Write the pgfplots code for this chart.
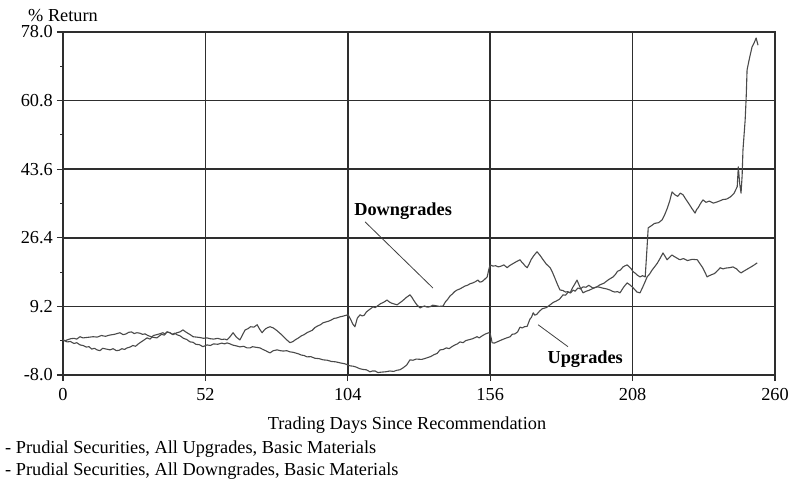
\documentclass[border=0pt]{standalone}
\usepackage{fontspec}
\setmainfont{Liberation Serif}
\usepackage{pgfplots}
\pgfplotsset{compat=1.18}
\definecolor{curve}{HTML}{4A4A4A}
\definecolor{gridc}{HTML}{2E2E2E}
\begin{document}
\fontsize{18.3bp}{22bp}\selectfont
\begin{tikzpicture}
\useasboundingbox (-63bp,-113bp) rectangle (728bp,375bp);
\begin{axis}[
  at={(0,0)}, anchor=south west,
  scale only axis, width=712bp, height=343bp,
  xmin=0, xmax=260, ymin=-8, ymax=78,
  xtick={0,52,104,156,208,260},
  ytick={-8,9.2,26.4,43.6,60.8,78},
  minor ytick={0.6,17.8,35,52.2,69.4},
  yticklabel style={/pgf/number format/fixed, /pgf/number format/fixed zerofill, /pgf/number format/precision=1},
  /pgf/number format/assume math mode=true,
  tick align=outside,
  major tick length=6bp, minor tick length=2.5bp,
  tick style={gridc, line width=1.2bp},
  xtick pos=bottom, ytick pos=left,
  grid=major,
  major grid style={gridc, line width=1.6bp},
  axis line style={gridc, line width=1.6bp},
  every tick label/.append style={font=\fontsize{18.3bp}{22bp}\selectfont},
  yticklabel style={inner sep=0pt, xshift=-4bp},
  xticklabel style={inner sep=0pt, yshift=-7bp},
  clip=false,
]
% Upgrades
\addplot[curve, line width=1.1bp, line join=round] coordinates {
(0,0.8) (0.8,0.5) (1.5,0.3) (2.7,0.4) (4,-0.1) (5,0.1) (6.2,-0.45) (7.3,-0.6) (8.5,-1.0) (9.5,-0.9) (10.5,-1.5) (11.5,-1.3) (12.4,-1.7) (13.5,-1.9) (14.5,-1.3) (15.8,-1.5) (17.2,-1.7) (18.3,-1.4) (19.5,-1.9) (20.5,-1.8) (21.5,-1.4) (22.5,-1.6) (23.4,-1.2) (24.5,-1.0) (25.5,-0.6) (26.5,-0.8) (27.5,-0.2) (29,0.5) (30.7,1.3) (31.8,1.0) (33,1.9) (34.7,2.2) (36.5,2.6) (37.2,2.3) (38,2.8) (39,2.6) (40,2.2) (40.8,2.5) (41.6,2.1) (42.8,1.8) (44,1.2) (45.2,0.9) (46.4,0.3) (47.5,0.2) (48.5,-0.3) (49.8,-0.4) (51.1,-0.9) (51.8,-0.7) (52.6,-0.45) (53.8,-0.6) (55,-0.2) (56.5,-0.3) (58,0.0) (59,-0.2) (59.9,0.05) (61,-0.2) (62,-0.5) (63.3,-0.7) (64.6,-0.95) (66,-0.8) (67.2,-1.2) (68.3,-1.2) (69.2,-0.9) (70,-1.0) (71,-1.1) (71.9,-1.2) (73,-1.6) (74,-1.9) (74.8,-2.2) (75.6,-2.45) (76.8,-1.9) (78.2,-1.7) (79.3,-1.9) (80.5,-2.0) (81.7,-1.9) (82.9,-2.2) (84,-2.3) (85,-2.5) (86,-2.7) (87,-3.0) (88,-3.1) (89.1,-3.45) (90.5,-3.4) (92,-3.8) (93.5,-3.9) (95,-4.2) (96.5,-4.3) (98,-4.6) (99.6,-4.7) (101.2,-4.96) (103,-5.2) (104.8,-5.7) (106,-5.8) (107,-6.0) (108.3,-6.4) (109.5,-6.6) (110.8,-6.7) (112.1,-7.2) (113,-7.0) (114,-7.0) (115,-7.4) (116,-7.3) (117.7,-7.2) (119.4,-7.0) (120.7,-7.1) (122,-6.8) (123,-6.7) (124.2,-6.2) (125.5,-5.5) (126.7,-4.2) (127.8,-4.3) (129,-4.0) (131,-4.1) (132.9,-3.7) (134.2,-3.4) (135.5,-2.9) (136.6,-2.6) (137.7,-1.7) (138.8,-1.6) (140,-1.2) (141,-1.4) (142,-0.9) (143,-0.5) (144,-0.2) (145,0.3) (146.1,0.1) (147,0.6) (148,0.8) (149.6,1.1) (151.2,1.6) (152,1.3) (153,1.8) (154.3,2.3) (155.5,2.6) (156,2.4) (156.7,0.1) (157.5,0.0) (158.5,0.3) (159.5,0.6) (160.5,0.9) (162,1.3) (163.3,1.6) (164,2.2) (165,2.3) (166,2.8) (166.9,4.0) (167.7,3.8) (168.5,4.1) (169.5,4.2) (170.5,6.0) (171.1,6.5) (171.7,7.6) (172.3,7.0) (173,7.2) (174,8.0) (175,8.6) (176.5,8.9) (177.9,9.6) (179,10.2) (180,10.5) (181.3,11.0) (182.6,12.1) (183.5,12.0) (184.5,12.8) (185.4,12.6) (186.3,13.3) (187,13.0) (188,13.8) (189,13.6) (189.9,14.1) (191,14.0) (192,14.5) (193.5,13.8) (195,14.1) (196,14.6) (197.5,15.0) (199.2,15.9) (200.9,16.6) (201.7,17.2) (202.5,18.0) (203.5,18.3) (204.5,19.1) (205.3,19.4) (206,19.6) (206.8,19.1) (207.5,18.6) (208.2,17.9) (209,17.5) (209.8,17.0) (210.7,16.6) (211.6,16.9) (212.6,16.6) (213.1,22.0) (213.7,28.9) (214.8,29.4) (216,30.0) (217.5,30.2) (218.8,30.9) (219.6,32.0) (220.5,33.5) (221.5,35.5) (222.4,37.9) (223.4,37.2) (224.5,36.8) (225.4,37.6) (226.4,37.2) (227.5,36.0) (228.5,35.0) (229.6,33.8) (230.8,32.6) (231.4,33.5) (232,34.0) (232.8,35.0) (233.7,35.9) (234.8,35.3) (236,35.6) (237.5,35.1) (238.9,35.4) (240,35.7) (241,36.0) (242.3,36.1) (243.6,36.6) (245,37.5) (246.2,39.2) (246.6,44.2) (247.1,40.0) (247.6,37.6) (248,42) (248.3,48.4) (249.1,55.9) (249.5,62) (249.8,68.5) (250.7,71.5) (251.6,74.2) (252.4,75.3) (253.1,76.5) (253.8,74.7)
};
% Downgrades
\addplot[curve, line width=1.1bp, line join=round] coordinates {
(0,0.8) (0.8,0.6) (1.5,0.8) (2.8,1.1) (4,1.2) (5,1.0) (6.2,1.6) (7.3,1.3) (8.5,1.4) (9.8,1.5) (11,1.6) (12.5,1.5) (14,1.9) (15.5,1.7) (17,2.0) (18.8,2.2) (20.8,2.6) (22,2.1) (23,2.3) (24,2.7) (25,2.8) (26,2.4) (27,2.6) (28,2.5) (29,2.2) (30,2.3) (31,1.9) (32.6,1.5) (34.3,1.3) (35.2,1.8) (36,2.2) (37,2.0) (38,2.8) (39,2.6) (40.2,2.1) (41,2.4) (41.6,2.6) (42.7,2.8) (43.8,3.3) (44.6,2.9) (45.5,2.5) (46.5,2.1) (47.5,1.6) (48.8,1.5) (50,1.4) (51.3,1.2) (52.6,1.3) (53.8,1.1) (55,1.0) (56.5,1.2) (58,0.9) (59,1.0) (59.9,0.8) (61,1.6) (62.1,2.6) (63.3,1.5) (64.6,0.8) (65.5,2.0) (66.5,3.3) (67.5,3.6) (68.5,4.1) (69.7,4.0) (70.9,4.6) (71.8,3.5) (72.7,2.6) (73.3,3.1) (74,3.6) (74.8,3.9) (75.6,4.1) (76.8,3.8) (78,3.2) (79,2.6) (80,2.0) (81.4,1.0) (82.9,0.1) (84,0.4) (85,0.9) (86,1.3) (87,1.8) (88,2.1) (89.1,2.6) (90,2.9) (91,3.2) (92,3.9) (93,4.3) (94,4.6) (95,5.1) (96,5.3) (97,5.5) (98,5.8) (99,6.2) (100,6.3) (101.2,6.6) (102,6.7) (103,6.9) (104.1,7.1) (105,6.0) (105.8,4.8) (106.6,4.1) (107.5,6.3) (108.5,7.1) (109.3,6.8) (110,7.0) (110.8,7.8) (111.5,8.2) (112.3,8.6) (113.2,9.1) (114,8.9) (115,9.4) (116,9.9) (117,10.2) (117.7,10.5) (118.3,10.8) (119.2,10.3) (120,10.0) (121,9.8) (122,9.6) (123,10.1) (124,10.6) (125.3,11.4) (126.7,12.1) (127.4,11.5) (128,10.8) (129.2,9.6) (130.4,8.8) (131.2,9.1) (132,9.3) (133,9.0) (134,9.1) (135,9.5) (136,9.4) (137.4,9.2) (138.8,9.3) (139.6,10.3) (140.5,11.0) (141.3,11.8) (142,12.2) (143,12.9) (143.9,13.3) (145,13.6) (146,14.0) (146.8,14.3) (147.7,14.5) (148.7,14.9) (149.7,15.1) (150.6,15.4) (151.5,15.8) (152.2,15.3) (153,15.4) (154,16.0) (154.9,16.6) (155.5,18.5) (156,19.6) (157,19.3) (158,19.4) (159,19.1) (160,19.3) (161,19.6) (162.2,18.9) (163,19.4) (164,19.8) (165.5,20.4) (166.9,20.9) (167.5,20.3) (168,20.0) (168.8,19.3) (169.5,18.9) (170.2,19.8) (171,21.0) (172,22.0) (173.1,22.9) (174.2,22.0) (175.3,20.9) (176.5,19.8) (177.9,18.9) (178.7,17.8) (179.5,16.5) (180.5,14.8) (181.5,13.3) (182.5,13.2) (183.5,12.8) (184.3,12.9) (185.2,12.6) (186,13.8) (186.8,14.7) (187.7,15.8) (188.8,14.0) (189.9,12.6) (191,13.0) (192,13.2) (193.5,13.7) (195,14.1) (196,14.0) (197,13.8) (198.4,13.6) (199.8,13.3) (200.6,13.0) (201.5,12.8) (202.5,12.9) (203.4,12.6) (204.7,14.0) (206,15.1) (207,14.6) (208,14.0) (208.8,13.4) (209.6,12.8) (210.7,12.6) (211.4,13.6) (212,14.5) (212.7,15.6) (213.3,16.6) (214.2,17.3) (215,18.2) (216,19.1) (217,20.0) (218,21.2) (219.1,22.6) (219.9,21.7) (220.6,20.9) (221.5,21.5) (222.4,22.1) (223.2,21.7) (224,21.4) (224.7,21.1) (225.3,20.9) (226.6,21.2) (228,20.7) (229.8,21.0) (231.6,20.9) (232.5,20.0) (233.5,19.0) (234.4,17.8) (235.2,16.6) (236,16.9) (237,17.2) (237.8,17.4) (238.5,17.8) (239.2,18.3) (240,18.9) (241,18.6) (242,18.8) (243.3,18.9) (244.7,19.1) (245.4,18.8) (246,18.6) (246.8,18.0) (247.6,17.6) (248.3,17.9) (249,18.2) (250,18.6) (251,19.0) (252.2,19.5) (253.5,20.1)
};
\draw[black!75, line width=0.8bp] (axis cs:110.3,30.4) -- (axis cs:135.1,13.8);
\draw[black!75, line width=0.8bp] (axis cs:173.5,4.6) -- (axis cs:184.4,-0.9);
\node[anchor=base, inner sep=0pt, font=\bfseries] at (axis cs:124.2,32.1) {Downgrades};
\node[anchor=base, inner sep=0pt, font=\bfseries] at (axis cs:190.7,-5.2) {Upgrades};
\end{axis}
\node[anchor=base west, inner sep=0pt] at (-35bp,353bp) {\% Return};
\node[anchor=base, inner sep=0pt] at (344bp,-54bp) {Trading Days Since Recommendation};
\node[anchor=base west, inner sep=0pt] at (-58bp,-78bp) {- Prudial Securities, All Upgrades, Basic Materials};
\node[anchor=base west, inner sep=0pt] at (-58bp,-100bp) {- Prudial Securities, All Downgrades, Basic Materials};
\end{tikzpicture}
\end{document}
